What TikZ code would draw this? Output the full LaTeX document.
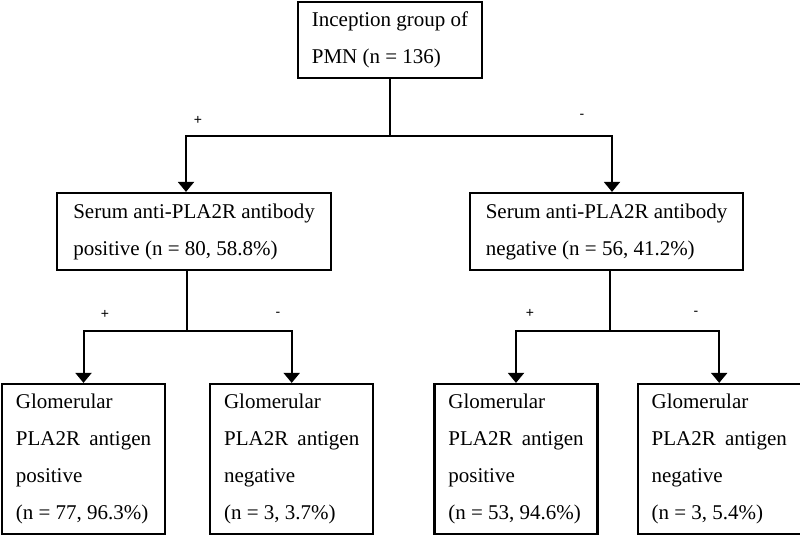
\documentclass[tikz,border=0pt]{standalone}
\usepackage{fontspec}
\setmainfont{Liberation Serif}
\newfontfamily\signfont{Liberation Sans}
\usetikzlibrary{arrows.meta,positioning}
\tikzset{
  box/.style={draw=black,line width=2.2pt,align=left,font=\fontsize{21}{37}\selectfont,text=black,inner xsep=10pt,inner ysep=0pt},
  arr/.style={-{Triangle[length=10pt,width=16pt]},draw=black,line width=2pt},
  link/.style={draw=black,line width=2pt},
  sign/.style={font=\signfont\fontsize{14}{16}\selectfont,inner sep=0pt}
}
\begin{document}
\begin{tikzpicture}[x=1pt,y=-1pt]
  \useasboundingbox (0,0) rectangle (800,537);
  \node[box,minimum width=184pt,minimum height=76pt] (pmn) at (390,40) {Inception group of\\PMN (n = 136)};
  \node[box,minimum width=274pt,minimum height=77pt] (abpos) at (194,231.5) {Serum anti-PLA2R antibody\\positive (n = 80, 58.8\%)};
  \node[box,minimum width=273pt,minimum height=77pt] (abneg) at (606.5,231.5) {Serum anti-PLA2R antibody\\negative (n = 56, 41.2\%)};
  \node[box,minimum width=163pt,minimum height=150pt] (agpos1) at (83.5,459) {Glomerular\\PLA2R\hspace{4pt} antigen\\positive\\(n = 77, 96.3\%)};
  \node[box,minimum width=163pt,minimum height=150pt,right=43pt of agpos1] (agneg1) {Glomerular\\PLA2R\hspace{4pt} antigen\\negative\\(n = 3, 3.7\%)};
  \node[box,minimum width=163pt,minimum height=150pt] (agpos2) at (516,459) {Glomerular\\PLA2R\hspace{4pt} antigen\\positive\\(n = 53, 94.6\%)};
  \node[box,minimum width=163pt,minimum height=150pt,right=38pt of agpos2] (agneg2) {Glomerular\\PLA2R\hspace{4pt} antigen\\negative\\(n = 3, 5.4\%)};
  % first split
  \draw[link] (pmn.south) -- ++(0,57) coordinate (split);
  \draw[arr] (split) -| ([xshift=-8pt]abpos.north);
  \draw[arr] (split) -| ([xshift=5.5pt]abneg.north);
  % second splits
  \draw[link] ([xshift=-7pt]abpos.south) -- ++(0,60) coordinate (splitL);
  \draw[arr] (splitL) -| (agpos1.north);
  \draw[arr] (splitL) -| (agneg1.north);
  \draw[link] ([xshift=3.5pt]abneg.south) -- ++(0,60) coordinate (splitR);
  \draw[arr] (splitR) -| (agpos2.north);
  \draw[arr] (splitR) -| (agneg2.north);
  % branch signs
  \node[sign] at (198,120) {+};
  \node[sign] at (582,116) {-};
  \node[sign] at (105,314) {+};
  \node[sign] at (278,314) {-};
  \node[sign] at (530,313) {+};
  \node[sign] at (696,313) {-};
\end{tikzpicture}
\end{document}
